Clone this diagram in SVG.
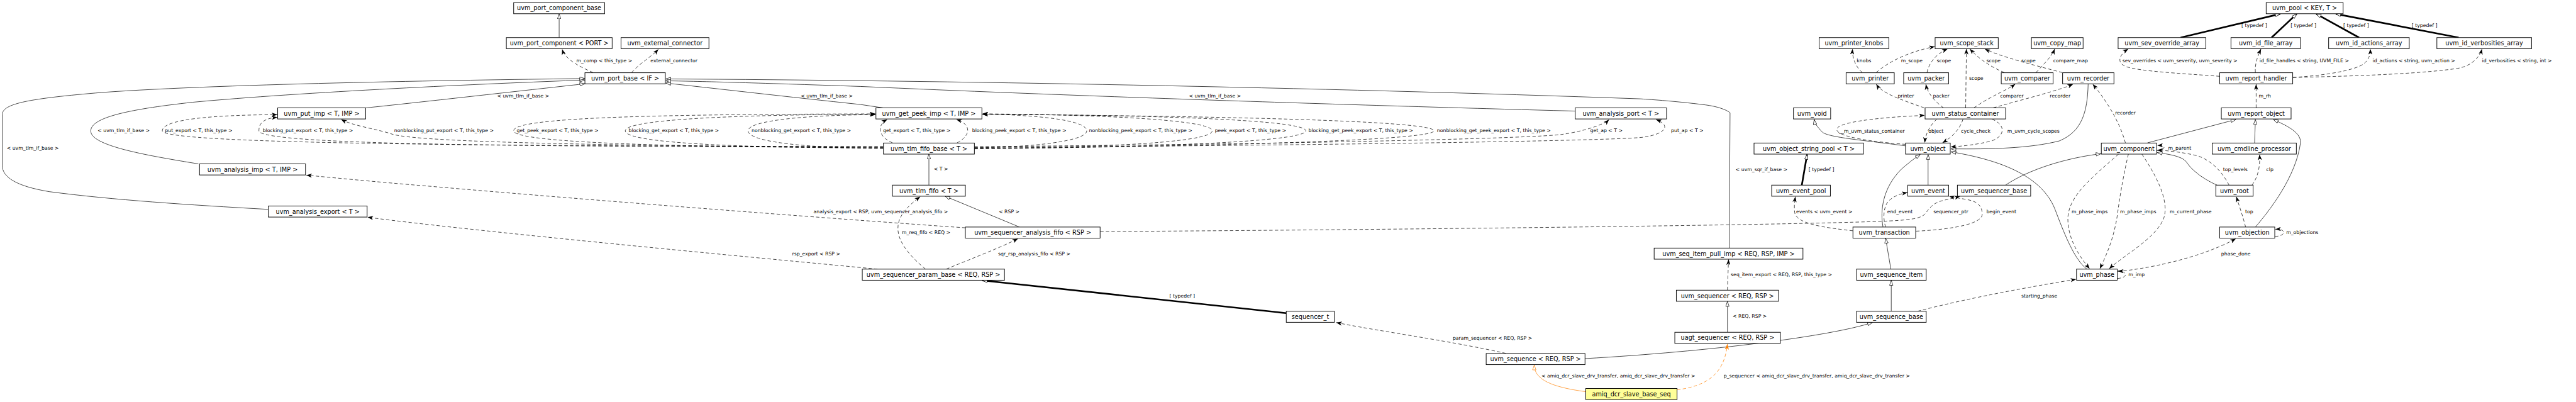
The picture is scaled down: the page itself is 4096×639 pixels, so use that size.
<svg xmlns="http://www.w3.org/2000/svg" width="4096" height="639" viewBox="0 0 4096 639">
<style>
.n rect{fill:#fff;stroke:#000;stroke-width:1.6}
.n text{font-family:"DejaVu Sans",sans-serif;font-size:16.3px;text-anchor:middle;fill:#000}
#n_amiq rect{fill:#ffff99}
#edges path{fill:none;stroke:#000;stroke-width:1.2}
#edges .d{stroke-dasharray:9,6}
#edges .k{stroke-width:4.5}
#edges .o{stroke:#ff7f00}
.l{font-family:"DejaVu Sans",sans-serif;font-size:13px;fill:#000}
.i{marker-end:url(#tri)}
.u{marker-end:url(#vee)}
</style>
<defs>
<marker id="tri" markerUnits="userSpaceOnUse" viewBox="0 0 15 11" markerWidth="15" markerHeight="11" refX="14" refY="5.5" orient="auto"><path d="M1,1 L14,5.5 L1,10 Z" fill="#fff" stroke="#000" stroke-width="1.2"/></marker>
<marker id="triO" markerUnits="userSpaceOnUse" viewBox="0 0 15 11" markerWidth="15" markerHeight="11" refX="14" refY="5.5" orient="auto"><path d="M1,1 L14,5.5 L1,10 Z" fill="#fff" stroke="#ff7f00" stroke-width="1.2"/></marker>
<marker id="vee" markerUnits="userSpaceOnUse" viewBox="0 0 15 11" markerWidth="15" markerHeight="11" refX="15" refY="5.5" orient="auto"><path d="M0,0 L15,5.5 L0,11 L4,5.5 Z" fill="#000"/></marker>
<marker id="veeO" markerUnits="userSpaceOnUse" viewBox="0 0 15 11" markerWidth="15" markerHeight="11" refX="15" refY="5.5" orient="auto"><path d="M0,0 L15,5.5 L0,11 L4,5.5 Z" fill="#ff7f00"/></marker>
</defs>
<rect width="4096" height="639" fill="#fff"/>
<g transform="scale(0.5975)">
<g id="edges">
<!-- port area -->
<path class="i" d="M1488,100 L1488,37"/>
<path class="d u" d="M1578,193 C1545,178 1505,160 1496,131"/>
<text class="l" x="1534" y="165">m_comp &lt; this_type &gt;</text>
<path class="d u" d="M1681,193 C1700,170 1735,150 1752,131"/>
<text class="l" x="1731" y="165">external_connector</text>
<path class="i" d="M973,287 C1100,274 1400,240 1556,223"/>
<text class="l" x="1323" y="259">&lt; uvm_tlm_if_base &gt;</text>
<path class="i" d="M528,436 C400,415 250,390 242,352 C235,315 330,292 513,272 C800,245 1300,222 1556,213"/>
<text class="l" x="260" y="352">&lt; uvm_tlm_if_base &gt;</text>
<path class="i" d="M714,557 C500,545 300,532 132,510 C40,495 6,470 6,440 L6,305 C6,275 80,262 271,246 C600,222 1300,212 1556,209"/>
<text class="l" x="18" y="399">&lt; uvm_tlm_if_base &gt;</text>
<path class="i" d="M4602,660 L4604,300 C4595,292 4570,283 4538,279 C4450,268 4380,264 4366,263 C3500,232 2500,214 1772,210"/>
<text class="l" x="4619" y="455">&lt; uvm_sqr_if_base &gt;</text>
<path class="i" d="M4192,295.5 C3800,285 3000,262 2290,230 C2000,220 1850,216 1772,215"/>
<text class="l" x="3164" y="259">&lt; uvm_tlm_if_base &gt;</text>
<path class="i" d="M2350,287 L2290,278 C2100,258 1900,235 1772,221"/>
<text class="l" x="2131" y="259">&lt; uvm_tlm_if_base &gt;</text>
<!-- fifo_base usage loops -->
<path class="d u" d="M2351,390 C1400,388 432,385 432,348 C432,318 560,306 738,305"/>
<text class="l" x="439" y="352">put_export &lt; T, this_type &gt;</text>
<path class="d u" d="M2351,391 C1500,390 689,388 689,348 C689,325 705,315 738,312"/>
<text class="l" x="699" y="352">blocking_put_export &lt; T, this_type &gt;</text>
<path class="d u" d="M2351,392 C1600,388 1100,378 1041,356 C1010,345 940,335 908,318"/>
<text class="l" x="1049" y="352">nonblocking_put_export &lt; T, this_type &gt;</text>
<path class="d u" d="M2351,393 C1800,392 1367,380 1367,348 C1367,314 1700,304 2330,303"/>
<text class="l" x="1375" y="352">get_peek_export &lt; T, this_type &gt;</text>
<path class="d u" d="M2351,394 C1950,393 1664,380 1664,348 C1664,318 1950,305 2330,304"/>
<text class="l" x="1673" y="352">blocking_get_export &lt; T, this_type &gt;</text>
<path class="d u" d="M2351,395 C2150,394 1991,378 1991,348 C1991,320 2150,306 2330,305"/>
<text class="l" x="2000" y="352">nonblocking_get_export &lt; T, this_type &gt;</text>
<path class="d u" d="M2375,380 C2340,365 2330,335 2361,318"/>
<text class="l" x="2350" y="352">get_export &lt; T, this_type &gt;</text>
<path class="d u" d="M2547,380 C2585,360 2585,330 2545,318"/>
<text class="l" x="2587" y="352">blocking_peek_export &lt; T, this_type &gt;</text>
<path class="d u" d="M2593,393 C2750,392 2892,375 2892,348 C2892,318 2750,306 2614,303"/>
<text class="l" x="2898" y="352">nonblocking_peek_export &lt; T, this_type &gt;</text>
<path class="d u" d="M2593,394 C2950,393 3226,378 3226,348 C3226,320 2950,305 2614,303"/>
<text class="l" x="3233" y="352">peek_export &lt; T, this_type &gt;</text>
<path class="d u" d="M2593,395 C3100,392 3475,376 3475,348 C3475,320 3100,306 2614,304"/>
<text class="l" x="3482" y="352">blocking_get_peek_export &lt; T, this_type &gt;</text>
<path class="d u" d="M2593,396 C3300,388 3816,372 3816,348 C3816,325 3400,310 2614,304"/>
<text class="l" x="3824" y="352">nonblocking_get_peek_export &lt; T, this_type &gt;</text>
<path class="d u" d="M2593,390 C3300,385 4050,370 4153,358 C4200,352 4265,335 4282,318"/>
<text class="l" x="4232" y="352">get_ap &lt; T &gt;</text>
<path class="d u" d="M2593,392 C3400,388 4300,375 4373,365 C4430,357 4450,335 4407,318"/>
<text class="l" x="4447" y="352">put_ap &lt; T &gt;</text>
<!-- sequencer area -->
<path class="d u" d="M2569,606 C2300,588 1600,535 1150,496 C1000,484 880,472 815,466"/>
<text class="l" x="2165" y="567">analysis_export &lt; RSP, uvm_sequencer_analysis_fifo &gt;</text>
<path class="d u" d="M2335,716 C2200,703 1300,620 978,578"/>
<text class="l" x="2108" y="679">rsp_export &lt; RSP &gt;</text>
<path class="d u" d="M2463,716 C2420,680 2385,640 2390,600 C2393,570 2420,545 2449,523"/>
<text class="l" x="2400" y="623">m_req_fifo &lt; REQ &gt;</text>
<path class="d u" d="M2518,716 C2580,690 2660,660 2709,635"/>
<text class="l" x="2656" y="679">sqr_rsp_analysis_fifo &lt; RSP &gt;</text>
<path class="i" d="M2713,604 L2515,522"/>
<text class="l" x="2658" y="567">&lt; RSP &gt;</text>
<path class="i" d="M2472,492.5 L2472,410"/>
<text class="l" x="2485" y="454">&lt; T &gt;</text>
<path class="k i" d="M3423,833 L2614,746"/>
<text class="l" x="3112" y="791">[ typedef ]</text>
<path class="d u" d="M4007,940 C3850,905 3650,878 3556,858"/>
<text class="l" x="3866" y="904">param_sequencer &lt; REQ, RSP &gt;</text>
<path class="i" d="M4218,954 C4550,935 4870,895 4983,858"/>
<path class="o" marker-end="url(#triO)" d="M4220,1042 C4130,1030 4083,1010 4083,971"/>
<text class="l" x="4102" y="1005">&lt; amiq_dcr_slave_drv_transfer, amiq_dcr_slave_drv_transfer &gt;</text>
<path class="d o" marker-end="url(#veeO)" d="M4463,1037 C4560,1025 4590,980 4597,915"/>
<text class="l" x="4587" y="1005">p_sequencer &lt; amiq_dcr_slave_drv_transfer, amiq_dcr_slave_drv_transfer &gt;</text>
<path class="i" d="M4597,884 L4597,802"/>
<text class="l" x="4611" y="846">&lt; REQ, RSP &gt;</text>
<path class="d u" d="M4597,772 L4600,690"/>
<text class="l" x="4606" y="735">seq_item_export &lt; REQ, RSP, this_type &gt;</text>
<path class="d u" d="M2928,616 C3600,612 4700,600 5000,589 C5080,586 5110,582 5122,570 C5135,555 5140,540 5176,532 C5195,528 5206,525 5216,522"/>
<text class="l" x="5145" y="567">sequencer_ptr</text>
<path class="d u" d="M4931,614 C4850,605 4780,595 4776,565 C4774,548 4776,535 4778,523"/>
<text class="l" x="4780" y="567">events &lt; uvm_event &gt;</text>
<path class="d u" d="M5018,604 C5010,580 5012,545 5029,532 C5040,522 5055,516 5076,512"/>
<text class="l" x="5022" y="567">end_event</text>
<path class="d u" d="M5099,615 C5200,610 5275,595 5275,570 C5275,545 5260,535 5230,530 C5210,527 5195,524 5187,522"/>
<text class="l" x="5286" y="567">begin_event</text>
<path class="i" d="M5032,716 L5018,634"/>
<path class="i" d="M5033,828 L5033,746"/>
<path class="d u" d="M5103,828 C5250,790 5420,760 5525,743"/>
<text class="l" x="5379" y="791">starting_phase</text>
<path class="i" d="M5011,604 C5003,560 5010,500 5060,450 C5085,428 5100,418 5110,411"/>
<path class="i" d="M5131,492.5 L5131,411"/>
<path class="i" d="M5337,492.5 C5400,450 5500,420 5591,409"/>
<path class="k i" d="M4795,492.5 L4809,411"/>
<text class="l" x="4813" y="455">[ typedef ]</text>
<path class="i" d="M5071,388 C4950,372 4860,365 4848,350 C4835,335 4830,330 4828,318"/>
<path class="i" d="M5554,716 C5525,695 5500,640 5470,560 C5440,480 5350,430 5192,404"/>
<path class="i" d="M5557,223 C5555,300 5540,350 5480,375 C5400,395 5300,397 5192,396"/>
<!-- object / status container -->
<path class="d u" d="M5071,384 C4990,378 4890,365 4888,345 C4886,325 5000,312 5122,307"/>
<text class="l" x="4894" y="353">__m_uvm_status_container</text>
<path class="d u" d="M5154,317 C5140,330 5125,350 5122,380"/>
<text class="l" x="5132" y="353">object</text>
<path class="d u" d="M5224,317 C5215,345 5195,365 5169,380"/>
<text class="l" x="5219" y="353">cycle_check</text>
<path class="d u" d="M5301,317 C5335,330 5340,360 5300,375 C5260,385 5220,389 5191,391"/>
<text class="l" x="5342" y="353">m_uvm_cycle_scopes</text>
<path class="d u" d="M5121,287 C5060,265 5010,250 4993,224"/>
<text class="l" x="5050" y="259">printer</text>
<path class="d u" d="M5172,287 C5150,270 5130,250 5125,224"/>
<text class="l" x="5144" y="259">packer</text>
<path class="d u" d="M5231,287 L5233,130"/>
<text class="l" x="5240" y="212">scope</text>
<path class="d u" d="M5253,287 C5290,260 5340,240 5363,224"/>
<text class="l" x="5323" y="259">comparer</text>
<path class="d u" d="M5304,287 C5400,260 5480,240 5517,224"/>
<text class="l" x="5455" y="259">recorder</text>
<path class="d u" d="M4956,193 C4940,180 4928,155 4930,130"/>
<text class="l" x="4941" y="165">knobs</text>
<path class="d u" d="M4993,193 C5030,160 5090,135 5149,124"/>
<text class="l" x="5059" y="165">m_scope</text>
<path class="d u" d="M5128,193 C5135,160 5160,140 5183,130"/>
<text class="l" x="5154" y="165">scope</text>
<path class="d u" d="M5334,193 C5290,175 5260,150 5242,130"/>
<text class="l" x="5286" y="165">scope</text>
<path class="d u" d="M5488,193 C5420,175 5320,150 5282,130"/>
<text class="l" x="5379" y="165">scope</text>
<path class="d u" d="M5418,193 C5440,170 5460,150 5468,130"/>
<text class="l" x="5464" y="165">compare_map</text>
<!-- report area -->
<path class="d u" d="M5907,203 C5800,195 5700,190 5660,178 C5630,168 5640,145 5664,130"/>
<text class="l" x="5648" y="165">sev_overrides &lt; uvm_severity, uvm_severity &gt;</text>
<path class="d u" d="M6002,193 C6000,170 6008,150 6017,130"/>
<text class="l" x="6013" y="165">id_file_handles &lt; string, UVM_FILE &gt;</text>
<path class="d u" d="M6102,206 C6200,200 6270,185 6290,170 C6305,158 6308,145 6308,130"/>
<text class="l" x="6314" y="165">id_actions &lt; string, uvm_action &gt;</text>
<path class="d u" d="M6102,206 C6300,202 6450,195 6540,182 C6580,175 6600,150 6605,130"/>
<text class="l" x="6605" y="165">id_verbosities &lt; string, int &gt;</text>
<path class="k i" d="M5803,100 L6068,37"/>
<text class="l" x="5965" y="72">[ typedef ]</text>
<path class="k i" d="M6045,100 L6112,37"/>
<text class="l" x="6096" y="72">[ typedef ]</text>
<path class="k i" d="M6278,100 L6164,37"/>
<text class="l" x="6236" y="72">[ typedef ]</text>
<path class="k i" d="M6543,100 L6216,37"/>
<text class="l" x="6418" y="72">[ typedef ]</text>
<path class="d u" d="M6004,287 L6004,224"/>
<text class="l" x="6011" y="259">m_rh</text>
<path class="d u" d="M5656,380 C5640,320 5600,260 5569,224"/>
<text class="l" x="5629" y="305">recorder</text>
<path class="i" d="M5715,380 L5950,318"/>
<path class="i" d="M6000,380 L6002,318"/>
<path class="i" d="M6002,604 C6040,560 6110,470 6122,380 C6125,350 6075,330 6050,318"/>
<path class="d u" d="M5739,401 C5762,400 5768,386 5741,387"/>
<text class="l" x="5770" y="399">m_parent</text>
<path class="d u" d="M5932,492.5 C5915,460 5890,430 5850,415 C5810,405 5770,401 5741,399"/>
<text class="l" x="5916" y="455">top_levels</text>
<path class="i" d="M5900,492.5 C5860,475 5830,450 5818,430 C5805,415 5770,410 5741,406"/>
<path class="d u" d="M5993,492.5 C6010,470 6015,440 6013,411"/>
<text class="l" x="6031" y="455">clp</text>
<path class="d u" d="M5976,604 C5970,580 5960,550 5951,523"/>
<text class="l" x="5975" y="567">top</text>
<path class="d u" d="M6054,629 C6085,628 6085,608 6055,610"/>
<text class="l" x="6084" y="623">m_objections</text>
<path class="d u" d="M5636,722 C5700,717 5850,690 5950,635"/>
<text class="l" x="5911" y="679">phase_done</text>
<path class="d u" d="M5635,741 C5665,738 5662,722 5636,721"/>
<text class="l" x="5664" y="735">m_imp</text>
<path class="d u" d="M5700,410 C5740,470 5770,530 5760,575 C5745,630 5650,680 5613,715"/>
<text class="l" x="5774" y="567">m_current_phase</text>
<path class="d u" d="M5638,410 C5570,470 5505,520 5503,580 C5502,640 5540,690 5561,715"/>
<text class="l" x="5513" y="567">m_phase_imps</text>
<path class="d u" d="M5664,410 C5650,470 5640,530 5635,570 C5625,640 5600,690 5588,715"/>
<text class="l" x="5642" y="567">m_phase_imps</text>
</g>
<g id="n_port_component_base" class="n"><rect x="1367" y="7" width="242" height="29.5"/><text x="1488" y="27.5">uvm_port_component_base</text></g>
<g id="n_port_component" class="n"><rect x="1347.5" y="100" width="281.5" height="29.5"/><text x="1488.2" y="120.5">uvm_port_component &lt; PORT &gt;</text></g>
<g id="n_external_connector" class="n"><rect x="1652.6" y="100" width="234" height="29.5"/><text x="1769.6" y="120.5">uvm_external_connector</text></g>
<g id="n_port_base" class="n"><rect x="1556.6" y="193.5" width="214" height="29.5"/><text x="1663.6" y="214">uvm_port_base &lt; IF &gt;</text></g>
<g id="n_put_imp" class="n"><rect x="739" y="287" width="234" height="29.5"/><text x="856" y="307.5">uvm_put_imp &lt; T, IMP &gt;</text></g>
<g id="n_get_peek_imp" class="n"><rect x="2331" y="287" width="282" height="29.5"/><text x="2472" y="307.5">uvm_get_peek_imp &lt; T, IMP &gt;</text></g>
<g id="n_analysis_port" class="n"><rect x="4192" y="287" width="243" height="29.5"/><text x="4313.5" y="307.5">uvm_analysis_port &lt; T &gt;</text></g>
<g id="n_analysis_imp" class="n"><rect x="531" y="436" width="282" height="29.5"/><text x="672" y="456.5">uvm_analysis_imp &lt; T, IMP &gt;</text></g>
<g id="n_analysis_export" class="n"><rect x="714" y="548" width="263" height="29.5"/><text x="845.5" y="568.5">uvm_analysis_export &lt; T &gt;</text></g>
<g id="n_tlm_fifo_base" class="n"><rect x="2351" y="380.5" width="242" height="29.5"/><text x="2472" y="401">uvm_tlm_fifo_base &lt; T &gt;</text></g>
<g id="n_tlm_fifo" class="n"><rect x="2375" y="492.5" width="194" height="29.5"/><text x="2472" y="513">uvm_tlm_fifo &lt; T &gt;</text></g>
<g id="n_sequencer_analysis_fifo" class="n"><rect x="2569" y="604" width="358.6" height="29.5"/><text x="2748.3" y="624.5">uvm_sequencer_analysis_fifo &lt; RSP &gt;</text></g>
<g id="n_sequencer_param_base" class="n"><rect x="2294.7" y="716" width="378.4" height="29.5"/><text x="2483.9" y="736.5">uvm_sequencer_param_base &lt; REQ, RSP &gt;</text></g>
<g id="n_sequencer_t" class="n"><rect x="3423" y="828" width="128" height="29.5"/><text x="3487" y="848.5">sequencer_t</text></g>
<g id="n_sequence" class="n"><rect x="3955" y="940.5" width="263" height="29.5"/><text x="4086.5" y="961">uvm_sequence &lt; REQ, RSP &gt;</text></g>
<g id="n_amiq" class="n"><rect x="4220" y="1033.5" width="243" height="29.5"/><text x="4341.5" y="1054">amiq_dcr_slave_base_seq</text></g>
<g id="n_seq_item_pull_imp" class="n"><rect x="4402" y="660" width="396" height="29.5"/><text x="4600" y="680.5">uvm_seq_item_pull_imp &lt; REQ, RSP, IMP &gt;</text></g>
<g id="n_sequencer" class="n"><rect x="4461" y="772" width="272" height="29.5"/><text x="4597" y="792.5">uvm_sequencer &lt; REQ, RSP &gt;</text></g>
<g id="n_uagt_sequencer" class="n"><rect x="4457" y="884" width="281" height="29.5"/><text x="4597.5" y="904.5">uagt_sequencer &lt; REQ, RSP &gt;</text></g>
<g id="n_printer_knobs" class="n"><rect x="4841" y="100" width="185.5" height="29.5"/><text x="4933.7" y="120.5">uvm_printer_knobs</text></g>
<g id="n_scope_stack" class="n"><rect x="5149.7" y="100" width="168" height="29.5"/><text x="5233.7" y="120.5">uvm_scope_stack</text></g>
<g id="n_copy_map" class="n"><rect x="5406" y="100" width="137.5" height="29.5"/><text x="5474.7" y="120.5">uvm_copy_map</text></g>
<g id="n_sev_override_array" class="n"><rect x="5636.7" y="100" width="233.3" height="29.5"/><text x="5753.3" y="120.5">uvm_sev_override_array</text></g>
<g id="n_printer" class="n"><rect x="4912.8" y="193.5" width="128.2" height="29.5"/><text x="4976.9" y="214">uvm_printer</text></g>
<g id="n_packer" class="n"><rect x="5066" y="193.5" width="119.6" height="29.5"/><text x="5125.8" y="214">uvm_packer</text></g>
<g id="n_comparer" class="n"><rect x="5325.7" y="193.5" width="138" height="29.5"/><text x="5394.7" y="214">uvm_comparer</text></g>
<g id="n_recorder" class="n"><rect x="5489" y="193.5" width="136.6" height="29.5"/><text x="5557.3" y="214">uvm_recorder</text></g>
<g id="n_void" class="n"><rect x="4772.7" y="287" width="99" height="29.5"/><text x="4822.2" y="307.5">uvm_void</text></g>
<g id="n_status_container" class="n"><rect x="5123" y="287" width="214.4" height="29.5"/><text x="5230.2" y="307.5">uvm_status_container</text></g>
<g id="n_object_string_pool" class="n"><rect x="4667.8" y="380.5" width="291.2" height="29.5"/><text x="4813.4" y="401">uvm_object_string_pool &lt; T &gt;</text></g>
<g id="n_object" class="n"><rect x="5071" y="380.5" width="119" height="29.5"/><text x="5130.5" y="401">uvm_object</text></g>
<g id="n_component" class="n"><rect x="5592" y="380.5" width="147" height="29.5"/><text x="5665.5" y="401">uvm_component</text></g>
<g id="n_event_pool" class="n"><rect x="4714.7" y="492.5" width="156.3" height="29.5"/><text x="4792.8" y="513">uvm_event_pool</text></g>
<g id="n_event" class="n"><rect x="5077" y="492.5" width="108.6" height="29.5"/><text x="5131.3" y="513">uvm_event</text></g>
<g id="n_sequencer_base" class="n"><rect x="5209" y="492.5" width="195" height="29.5"/><text x="5306.5" y="513">uvm_sequencer_base</text></g>
<g id="n_transaction" class="n"><rect x="4931" y="604" width="167" height="29.5"/><text x="5014.5" y="624.5">uvm_transaction</text></g>
<g id="n_sequence_item" class="n"><rect x="4940.6" y="716" width="185.4" height="29.5"/><text x="5033.3" y="736.5">uvm_sequence_item</text></g>
<g id="n_sequence_base" class="n"><rect x="4940.6" y="828" width="185.4" height="29.5"/><text x="5033.3" y="848.5">uvm_sequence_base</text></g>
<g id="n_phase" class="n"><rect x="5526" y="716" width="108.4" height="29.5"/><text x="5580.2" y="736.5">uvm_phase</text></g>
<g id="n_pool" class="n"><rect x="6030.7" y="7" width="204.8" height="29.5"/><text x="6133.1" y="27.5">uvm_pool &lt; KEY, T &gt;</text></g>
<g id="n_id_file_array" class="n"><rect x="5937" y="100" width="185" height="29.5"/><text x="6029.5" y="120.5">uvm_id_file_array</text></g>
<g id="n_id_actions_array" class="n"><rect x="6197" y="100" width="214.5" height="29.5"/><text x="6304.2" y="120.5">uvm_id_actions_array</text></g>
<g id="n_id_verbosities_array" class="n"><rect x="6485" y="100" width="252" height="29.5"/><text x="6611" y="120.5">uvm_id_verbosities_array</text></g>
<g id="n_report_handler" class="n"><rect x="5907" y="193.5" width="194.4" height="29.5"/><text x="6004.2" y="214">uvm_report_handler</text></g>
<g id="n_report_object" class="n"><rect x="5911.4" y="287" width="185.6" height="29.5"/><text x="6004.2" y="307.5">uvm_report_object</text></g>
<g id="n_cmdline_processor" class="n"><rect x="5887" y="380.5" width="224" height="29.5"/><text x="5999" y="401">uvm_cmdline_processor</text></g>
<g id="n_root" class="n"><rect x="5896.7" y="492.5" width="99.3" height="29.5"/><text x="5946.3" y="513">uvm_root</text></g>
<g id="n_objection" class="n"><rect x="5907" y="604" width="146.6" height="29.5"/><text x="5980.3" y="624.5">uvm_objection</text></g>
</g>
</svg>
